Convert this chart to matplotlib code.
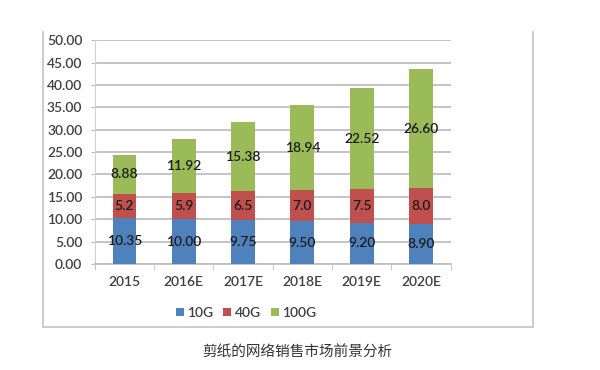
import numpy as np
import matplotlib
matplotlib.use('Agg')
import matplotlib.pyplot as plt
from matplotlib.lines import Line2D

years = ['2015', '2016E', '2017E', '2018E', '2019E', '2020E']
g10 = [10.35, 10.00, 9.75, 9.50, 9.20, 8.90]
g40 = [5.2, 5.9, 6.5, 7.0, 7.5, 8.0]
g100 = [8.88, 11.92, 15.38, 18.94, 22.52, 26.60]
caption = '剪纸的网络销售市场前景分析'

plt.rcParams['font.family'] = ['Lato', 'DejaVu Sans']
plt.rcParams['font.weight'] = 'semibold'

fig = plt.figure(figsize=(6, 3.7), dpi=100)
ax = fig.add_axes([0.158, 0.2865, 0.593, 0.605])

x = np.arange(len(years))
w = 0.4
b1 = ax.bar(x, g10, w, color='#4f81bd', label='10G', zorder=3)
b2 = ax.bar(x, g40, w, bottom=g10, color='#c0504d', label='40G', zorder=3)
bot = np.array(g10) + np.array(g40)
b3 = ax.bar(x, g100, w, bottom=bot, color='#9bbb59', label='100G', zorder=3)

lab = dict(label_type='center', fontsize=10, color='#1c1c1c')
ax.bar_label(b1, labels=['%.2f' % v for v in g10], **lab)
ax.bar_label(b2, labels=['%.1f' % v for v in g40], **lab)
ax.bar_label(b3, labels=['%.2f' % v for v in g100], **lab)

ax.set_xlim(-0.5, len(years) - 0.5)
ax.set_ylim(0, 50)
ax.set_yticks(np.arange(0, 51, 5))
ax.set_yticklabels(['%.2f' % v for v in np.arange(0, 51, 5)])
ax.yaxis.grid(True, color='#bfbfbf', lw=1.3, zorder=0)
ax.tick_params(axis='y', length=3, color='#bfbfbf', labelsize=10, labelcolor='#404040', pad=6)
ax.set_xticks(x)
ax.set_xticklabels(years)
ax.tick_params(axis='x', length=0, labelsize=10, labelcolor='#404040', pad=9)
ax.set_xticks(np.arange(-0.5, len(years), 1), minor=True)
ax.tick_params(axis='x', which='minor', length=4, color='#bfbfbf')
for s in ['top', 'right']:
    ax.spines[s].set_visible(False)
ax.spines['left'].set_color('#d0d0d0')
ax.spines['bottom'].set_color('#bfbfbf')
ax.spines['bottom'].set_linewidth(1.3)

fig.legend(handles=[b1, b2, b3], loc='center', bbox_to_anchor=(246 / 600, 1 - 313 / 370),
           ncol=3, frameon=False, fontsize=10, handlelength=0.58, handleheight=0.58,
           handletextpad=0.25, columnspacing=0.7, labelcolor='#404040')

# outer chart frame
fx0, fx1 = 43 / 600, 533 / 600
fy0, fy1 = 1 - 327 / 370, 1 - 32 / 370
for xs, ys in [([fx0, fx0], [fy0, fy1]), ([fx1, fx1], [fy0, fy1]), ([fx0, fx1], [fy0, fy0])]:
    fig.add_artist(Line2D(xs, ys, color='#c8c8c8', lw=1.3))

fig.text(297 / 600, 1 - 352 / 370, caption, ha='center', va='center', fontsize=10.5,
         color='#333333', weight='normal', family=['Noto Sans CJK SC', 'DejaVu Sans'])

fig.savefig('out.png', dpi=100, facecolor='white')
